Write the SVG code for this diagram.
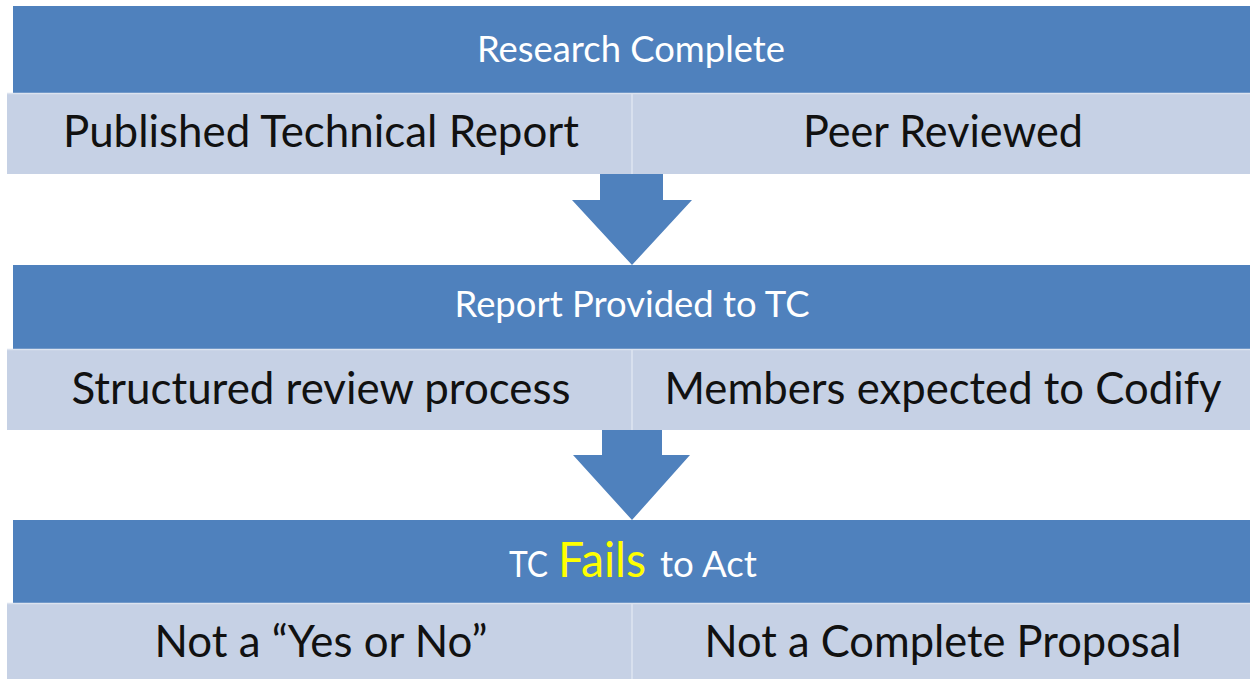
<svg xmlns="http://www.w3.org/2000/svg" width="1250" height="679" viewBox="0 0 1250 679">
  <style>
    .hdr { fill: #4F81BD; }
    .cell { fill: #C6D1E5; }
    .div { stroke: #D8E0EE; stroke-width: 2; }
    .sep { stroke: #DCE3EF; stroke-width: 1.5; }
    .ht { font-family: Lato, "Open Sans", "Liberation Sans", sans-serif; font-size: 37px; fill: #FFFFFF; }
    .bt { font-family: Lato, "Open Sans", "Liberation Sans", sans-serif; font-size: 44px; fill: #111111; }
    .hl { fill: #FFFF00; font-size: 48px; }
    .arrow { fill: #4F81BD; }
  </style>
  <rect width="1250" height="679" fill="#FFFFFF"/>

  <!-- Stage 1 -->
  <g id="research-complete">
    <rect class="hdr" x="13" y="6" width="1237" height="87"/>
    <text class="ht" x="631" y="62" text-anchor="middle" textLength="308" lengthAdjust="spacingAndGlyphs">Research Complete</text>
  </g>
  <g id="published-report">
    <rect class="cell" x="7" y="94" width="625" height="80"/>
    <text class="bt" x="321" y="147" text-anchor="middle" textLength="516" lengthAdjust="spacingAndGlyphs">Published Technical Report</text>
  </g>
  <g id="peer-reviewed">
    <rect class="cell" x="632" y="94" width="618" height="80"/>
    <text class="bt" x="943" y="147" text-anchor="middle" textLength="280" lengthAdjust="spacingAndGlyphs">Peer Reviewed</text>
  </g>

  <!-- Stage 2 -->
  <g id="report-provided">
    <rect class="hdr" x="13" y="265" width="1237" height="84"/>
    <text class="ht" x="632" y="317" text-anchor="middle" textLength="355" lengthAdjust="spacingAndGlyphs">Report Provided to TC</text>
  </g>
  <g id="structured-review">
    <rect class="cell" x="7" y="350" width="625" height="80"/>
    <text class="bt" x="321" y="404" text-anchor="middle" textLength="499" lengthAdjust="spacingAndGlyphs">Structured review process</text>
  </g>
  <g id="members-codify">
    <rect class="cell" x="632" y="350" width="618" height="80"/>
    <text class="bt" x="943" y="404" text-anchor="middle" textLength="557" lengthAdjust="spacingAndGlyphs">Members expected  to Codify</text>
  </g>

  <!-- Stage 3 -->
  <g id="tc-fails">
    <rect class="hdr" x="13" y="520" width="1237" height="83"/>
    <text class="ht" y="577">
      <tspan x="509" textLength="39" lengthAdjust="spacingAndGlyphs">TC</tspan>
      <tspan class="hl" x="558" textLength="88" lengthAdjust="spacingAndGlyphs">Fails</tspan>
      <tspan x="660" textLength="97" lengthAdjust="spacingAndGlyphs">to Act</tspan>
    </text>
  </g>
  <g id="not-yes-no">
    <rect class="cell" x="7" y="604" width="625" height="75"/>
    <text class="bt" x="321" y="657" text-anchor="middle" textLength="333" lengthAdjust="spacingAndGlyphs">Not a “Yes or No”</text>
  </g>
  <g id="not-complete">
    <rect class="cell" x="632" y="604" width="618" height="75"/>
    <text class="bt" x="943" y="657" text-anchor="middle" textLength="477" lengthAdjust="spacingAndGlyphs">Not a Complete Proposal</text>
  </g>

  <!-- cell dividers and band separators -->
  <g id="dividers">
    <line class="div" x1="632" y1="94" x2="632" y2="174"/>
    <line class="div" x1="632" y1="350" x2="632" y2="430"/>
    <line class="div" x1="632" y1="604" x2="632" y2="679"/>
    <line class="sep" x1="7" y1="93.5" x2="1250" y2="93.5"/>
    <line class="sep" x1="7" y1="349.5" x2="1250" y2="349.5"/>
    <line class="sep" x1="7" y1="603.5" x2="1250" y2="603.5"/>
  </g>

  <!-- Down arrows between stages -->
  <g id="connectors">
    <polygon class="arrow" points="600,174 663,174 663,200 692,200 632,265 572,200 600,200"/>
    <polygon class="arrow" points="602,430 662,430 662,455 690,455 632,520 573,455 602,455"/>
  </g>
</svg>
